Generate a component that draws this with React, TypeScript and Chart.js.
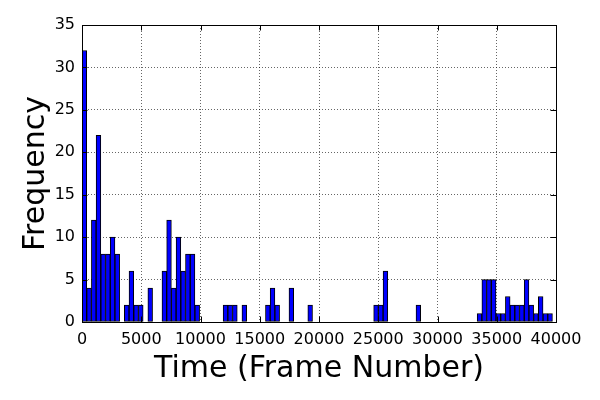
import React, { useEffect, useRef } from "react";
import { Chart, registerables } from "chart.js";

Chart.register(...registerables);

// Histogram: 100 bins over frame numbers 0 .. ~39700
const binWidth = 397;
const counts = [
  32, 4, 12, 22, 8, 8, 10, 8, 0, 2,
  6, 2, 2, 0, 4, 0, 0, 6, 12, 4,
  10, 6, 8, 8, 2, 0, 0, 0, 0, 0,
  2, 2, 2, 0, 2, 0, 0, 0, 0, 2,
  4, 2, 0, 0, 4, 0, 0, 0, 2, 0,
  0, 0, 0, 0, 0, 0, 0, 0, 0, 0,
  0, 0, 2, 2, 6, 0, 0, 0, 0, 0,
  0, 2, 0, 0, 0, 0, 0, 0, 0, 0,
  0, 0, 0, 0, 1, 5, 5, 5, 1, 1,
  3, 2, 2, 2, 5, 2, 1, 3, 1, 1,
];
const xMin = 0;
const xMax = 40000;
const xStep = 5000;
const yMin = 0;
const yMax = 35;
const yStep = 5;
const xTitle = "Time (Frame Number)";
const yTitle = "Frequency";

const FONT = "'DejaVu Sans', sans-serif";

const framePlugin = {
  id: "frameAndTitles",
  afterDatasetsDraw(chart: any) {
    const { ctx, chartArea: a } = chart;
    const xs = chart.scales.x;
    const ys = chart.scales.y;
    const tl = 5.5;
    ctx.save();
    ctx.strokeStyle = "#000";
    ctx.lineWidth = 1;
    ctx.beginPath();
    for (const t of xs.ticks) {
      const px = Math.round(xs.getPixelForValue(t.value)) + 0.5;
      ctx.moveTo(px, a.bottom);
      ctx.lineTo(px, a.bottom - tl);
      ctx.moveTo(px, a.top);
      ctx.lineTo(px, a.top + tl);
    }
    for (const t of ys.ticks) {
      const py = Math.round(ys.getPixelForValue(t.value)) + 0.5;
      ctx.moveTo(a.left, py);
      ctx.lineTo(a.left + tl, py);
      ctx.moveTo(a.right, py);
      ctx.lineTo(a.right - tl, py);
    }
    ctx.stroke();
    ctx.strokeRect(a.left + 0.5, a.top + 0.5, a.right - a.left, a.bottom - a.top);
    ctx.restore();
  },
  afterDraw(chart: any) {
    const { ctx, chartArea: a } = chart;
    ctx.save();
    ctx.fillStyle = "#000";
    ctx.font = `30px ${FONT}`;
    ctx.textAlign = "center";
    ctx.textBaseline = "alphabetic";
    ctx.fillText(xTitle, (a.left + a.right) / 2, 377);
    ctx.translate(44, (a.top + a.bottom) / 2);
    ctx.rotate(-Math.PI / 2);
    ctx.fillText(yTitle, 0, 0);
    ctx.restore();
  },
};

export default function App() {
  const ref = useRef<HTMLCanvasElement | null>(null);
  useEffect(() => {
    const canvas = ref.current;
    if (!canvas) return;
    const data = counts.map((c, i) => ({ x: xMin + binWidth * (i + 0.5), y: c }));
    const chart = new Chart(canvas, {
      type: "bar",
      data: {
        datasets: [
          {
            data: data as any,
            backgroundColor: "#0000ff",
            borderColor: "#000000",
            borderWidth: 1,
            borderSkipped: false,
            barPercentage: 1,
            categoryPercentage: 1,
          },
        ],
      },
      options: {
        responsive: false,
        animation: false,
        devicePixelRatio: 1,
        layout: { padding: { top: 25, right: 44, left: 0, bottom: 0 } },
        plugins: {
          legend: { display: false },
          tooltip: { enabled: false },
        },
        scales: {
          x: {
            type: "linear",
            min: xMin,
            max: xMax,
            offset: false,
            grid: {
              color: "rgba(0,0,0,0.6)",
              lineWidth: 1,
              drawTicks: false,
              offset: false,
            },
            border: { display: false, dash: [1, 2] },
            ticks: {
              stepSize: xStep,
              padding: 8,
              color: "#000",
              font: { family: FONT, size: 16 },
              maxRotation: 0,
              autoSkip: false,
              callback: (v: any) => String(v),
            },
            afterFit(scale: any) {
              scale.height = 78;
            },
          },
          y: {
            type: "linear",
            min: yMin,
            max: yMax,
            grid: {
              color: "rgba(0,0,0,0.6)",
              lineWidth: 1,
              drawTicks: false,
            },
            border: { display: false, dash: [1, 2] },
            ticks: {
              stepSize: yStep,
              padding: 7,
              color: "#000",
              font: { family: FONT, size: 16 },
              callback: (v: any) => String(v),
            },
            afterFit(scale: any) {
              scale.width = 82;
            },
          },
        },
      },
      plugins: [framePlugin],
    });
    return () => chart.destroy();
  }, []);
  return (
    <div style={{ position: "absolute", left: 0, top: 0, width: 600, height: 400, background: "#fff" }}>
      <canvas ref={ref} width={600} height={400} />
    </div>
  );
}
